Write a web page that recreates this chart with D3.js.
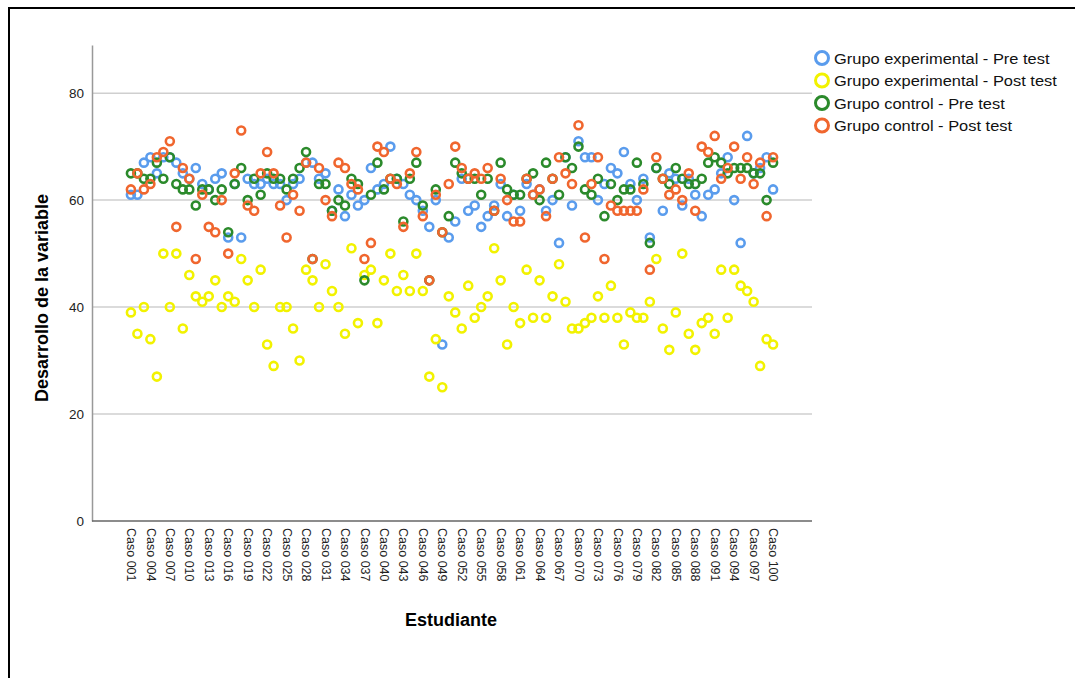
<!DOCTYPE html>
<html>
<head>
<meta charset="utf-8">
<script src="https://cdn.jsdelivr.net/npm/d3@7"></script>
<style>
  body { margin: 0; background: #fff; }
  svg text { font-family: "Liberation Sans", Arial, sans-serif; }
</style>
</head>
<body>
<div id="chart"></div>
<script>
//Values, one per case (Caso 001 .. Caso 100)
const expPre = [
  61,61,67,68,65,68,68,67,65,64, 66,63,62,64,65,53,63,53,64,63,
  63,64,63,63,60,63,64,67,67,64, 65,58,62,57,61,59,60,66,62,63,
  70,64,63,61,60,58,55,60,33,53, 56,64,58,59,55,57,59,63,57,61,
  58,63,61,62,58,60,52,68,59,71, 68,68,60,63,66,65,69,63,60,64,
  53,66,58,65,64,59,64,61,57,61, 62,65,68,60,52,72,65,66,68,62
]
const expPost = [
  39,35,40,34,27,50,40,50,36,46, 42,41,42,45,40,42,41,49,45,40,
  47,33,29,40,40,36,30,47,45,40, 48,43,40,35,51,37,46,47,37,45,
  50,43,46,43,50,43,27,34,25,42, 39,36,44,38,40,42,51,45,33,40,
  37,47,38,45,38,42,48,41,36,36, 37,38,42,38,44,38,33,39,38,38,
  41,49,36,32,39,50,35,32,37,38, 35,47,38,47,44,43,41,29,34,33
]
const ctrlPre = [
  65,65,64,64,67,64,68,63,62,62, 59,62,62,60,62,54,63,66,60,64,
  61,65,64,64,62,64,66,69,49,63, 63,58,60,59,64,63,45,61,67,62,
  64,64,56,64,67,59,45,62,54,57, 67,65,64,64,61,64,58,67,62,61,
  61,64,65,60,67,64,61,68,66,70, 62,61,64,57,63,60,62,62,67,63,
  52,66,64,63,66,64,63,63,64,67, 68,67,65,66,66,66,65,65,60,67
]
const ctrlPost = [
  62,65,62,63,68,69,71,55,66,64, 49,61,55,54,60,50,65,73,59,58,
  65,69,65,59,53,61,58,67,49,66, 60,57,67,66,63,62,49,52,70,69,
  64,63,55,65,69,57,45,61,54,63, 70,66,64,65,64,66,58,64,60,56,
  56,64,61,62,57,64,68,65,63,74, 53,63,68,49,59,58,58,58,58,62,
  47,68,64,61,62,60,65,58,70,69, 72,64,66,70,64,68,63,67,57,68
]
const cases = d3.range(1, 101).map(i => "Caso " + String(i).padStart(3, "0"))
const yTicks = [0, 20, 40, 60, 80]

const series = [
  {name: "Grupo experimental - Pre test", values: expPre, color: "#5a9ced"},
  {name: "Grupo experimental - Post test", values: expPost, color: "#f2f200"},
  {name: "Grupo control - Pre test", values: ctrlPre, color: "#2b8a2b"},
  {name: "Grupo control - Post test", values: ctrlPost, color: "#f0662e"}
]

//plot box inside the window
const plot = {left: 92, right: 812, top: 45, bottom: 521}

const svg = d3.select("#chart")
  .append("svg")
  .attr("width", 1075)
  .attr("height", 678)

//outer frame
svg.append("rect")
  .attr("x", 9).attr("y", 8)
  .attr("width", 1100).attr("height", 700)
  .attr("fill", "none")
  .attr("stroke", "#000")
  .attr("stroke-width", 2)

const x = d3.scalePoint()
  .domain(cases)
  .range([plot.left, plot.right])
  .padding(6)

const y = d3.scaleLinear()
  .domain([0, 89])
  .range([plot.bottom, plot.top])

//gridlines
svg.append("g")
  .selectAll("line")
  .data(yTicks.filter(d => d > 0))
  .join("line")
  .attr("x1", plot.left).attr("x2", plot.right)
  .attr("y1", d => y(d)).attr("y2", d => y(d))
  .attr("stroke", "#cfcfcf")
  .attr("stroke-width", 1.5)

//y axis
const yAxis = svg.append("g")
  .attr("transform", "translate(" + plot.left + ",0)")
  .call(d3.axisLeft(y).tickValues(yTicks).tickSize(0).tickPadding(8))
yAxis.select(".domain").attr("stroke", "#999").attr("stroke-width", 1.5)
yAxis.selectAll("text").attr("font-size", 13.5).attr("fill", "#222")
  .attr("font-family", "Liberation Sans, Arial, sans-serif")

//x axis, every third label
const xAxis = svg.append("g")
  .attr("transform", "translate(0," + plot.bottom + ")")
  .call(d3.axisBottom(x).tickValues(cases.filter((d, i) => i % 3 === 0)).tickSize(0).tickSizeOuter(0))
xAxis.select(".domain").attr("stroke", "#666").attr("stroke-width", 1.5)
  .attr("d", "M" + plot.left + ",0H" + plot.right)
xAxis.selectAll("text")
  .attr("font-size", 12.5).attr("fill", "#222")
  .attr("font-family", "Liberation Sans, Arial, sans-serif")
  .attr("text-anchor", "start")
  .attr("dy", "0.35em")
  .attr("transform", "translate(0,7) rotate(90)")
  .attr("y", 0).attr("x", 0)

//points
series.forEach(s => {
  svg.append("g")
    .selectAll("circle")
    .data(s.values)
    .join("circle")
    .attr("cx", (d, i) => x(cases[i]))
    .attr("cy", d => y(d))
    .attr("r", 4)
    .attr("fill", "none")
    .attr("stroke", s.color)
    .attr("stroke-width", 2.6)
})

//axis titles
svg.append("text")
  .attr("transform", "translate(48," + ((plot.top + plot.bottom) / 2 + 15) + ") rotate(-90)")
  .attr("text-anchor", "middle")
  .attr("font-size", 18).attr("font-weight", "bold")
  .text("Desarrollo de la variable")

svg.append("text")
  .attr("x", 451).attr("y", 626)
  .attr("text-anchor", "middle")
  .attr("font-size", 18).attr("font-weight", "bold")
  .text("Estudiante")

//legend
const legend = svg.append("g")
  .selectAll("g")
  .data(series)
  .join("g")
  .attr("transform", (d, i) => "translate(822," + (58 + i * 22.5) + ")")
legend.append("circle")
  .attr("r", 6.5)
  .attr("fill", "none")
  .attr("stroke", d => d.color)
  .attr("stroke-width", 3)
legend.append("text")
  .attr("x", 12).attr("dy", "0.36em")
  .attr("font-size", 15.5).attr("fill", "#111")
  .text(d => d.name)
  .each(function() {
    //reference text is a little wider than Liberation Sans
    const w = this.getComputedTextLength()
    d3.select(this).attr("textLength", w * 1.06).attr("lengthAdjust", "spacingAndGlyphs")
  })
</script>
</body>
</html>
